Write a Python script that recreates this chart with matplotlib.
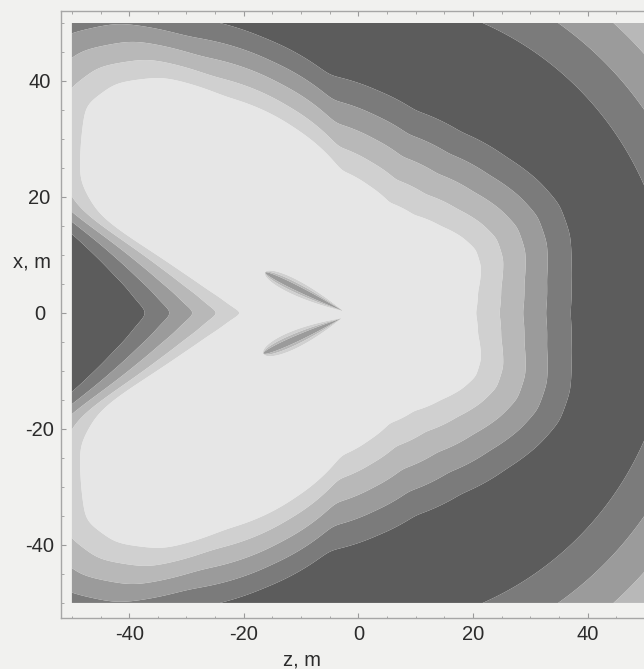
import numpy as np
import matplotlib
matplotlib.use("Agg")
import matplotlib.pyplot as plt
from matplotlib.ticker import MultipleLocator

# ---------------- data ----------------
# Edge of the lightest (innermost) region: polar angle from +z axis (deg), radius (m)
edge_angle_deg = [0, 10, 20, 28, 36, 46, 60, 74, 85, 97, 109, 122, 130, 137,
                  143, 150, 155, 159.6, 163.1, 165.6, 168.9, 173.4, 180]
edge_radius_m = [20.5, 21.2, 22.8, 23.2, 22.3, 20.8, 19.5, 19.8, 22.0, 24.8,
                 33.6, 44.0, 53.0, 58.0, 59.5, 56.0, 53.5, 48.1, 38.5, 33.6,
                 29.0, 24.5, 20.2]

# level drop is 1 unit per metre outside the edge; far out on the right the
# level rises again beyond this radius (m) at this rate (units per m)
rise_start_radius = 54.5
rise_rate = 0.667
rise_max_angle_deg = 70

# contour levels (level units) and band shades (darkest -> lightest)
contour_levels = [-16.5, -12.2, -8.2, -4.1, 0]
band_colors = ["#5c5c5c", "#7b7b7b", "#9b9b9b", "#b8b8b8", "#d0d0d0", "#e6e6e6"]

# two thin dark slivers near the source: tip (z, x) and far end (z, x)
sliver_tips = [(-2.6, 0.3), (-2.9, -0.9)]
sliver_ends = [(-16.3, 7.0), (-16.6, -7.0)]
sliver_halfwidth = [0.95, 1.1]
sliver_depth = 13.0

x_ticks = [-40, -20, 0, 20, 40]
y_ticks = [-40, -20, 0, 20, 40]
x_label = "z, m"
y_label = "x, m"

# ---------------- field ----------------
ang_full = np.concatenate([-np.array(edge_angle_deg[::-1][:-1]), np.array(edge_angle_deg)])
rad_full = np.concatenate([np.array(edge_radius_m[::-1][:-1]), np.array(edge_radius_m)])
fine = np.linspace(-180, 180, 3601)
prof = np.interp(fine, ang_full, rad_full)
k = np.arange(-30, 31) * 0.1
ker = np.exp(-0.5 * (k / 1.2) ** 2)
ker /= ker.sum()
ext = np.concatenate([prof[-31:-1], prof, prof[1:31]])
prof_s = np.convolve(ext, ker, mode="same")[30:-30]

zz = np.linspace(-50, 50, 901)
xx = np.linspace(-50, 50, 901)
Z, X = np.meshgrid(zz, xx)
R = np.hypot(Z, X)
TH = np.degrees(np.arctan2(X, Z))
S = np.interp(TH, fine, prof_s)
V_fall = -(R - S)
R1 = rise_start_radius + 3.0 * np.clip(np.abs(TH) - rise_max_angle_deg, 0, None)
V_rise = contour_levels[0] + rise_rate * (R - R1)
V = np.maximum(V_fall, V_rise)
V = np.minimum(V, 2.0)


def sliver(tip, end, half):
    T = np.array(tip)
    E = np.array(end)
    v = T - E
    L = np.hypot(*v)
    u = v / L
    rz = Z - E[0]
    rx = X - E[1]
    s = (rz * u[0] + rx * u[1]) / L
    p = np.abs(-rz * u[1] + rx * u[0])
    sc = np.clip(s, 1e-6, 1 - 1e-6)
    w = (half / 0.385) * np.sqrt(sc) * (1 - sc)
    g = np.exp(-(p / w) ** 2)
    g[(s <= 0) | (s >= 1)] = 0
    return g


for t, e, h in zip(sliver_tips, sliver_ends, sliver_halfwidth):
    V = V - sliver_depth * sliver(t, e, h)

# ---------------- figure ----------------
W, H = 644, 669
paper = "#f1f1ef"
fig = plt.figure(figsize=(W / 100, H / 100), dpi=100, facecolor=paper)
ax = fig.add_axes([61 / W, 51 / H, 594.8 / W, 607 / H])
ax.set_facecolor(paper)

lv = [-1e9] + contour_levels + [1e9]
ax.contourf(Z, X, V, levels=lv, colors=band_colors, antialiased=True)

ax.set_xlim(-51.9, 51.9)
ax.set_ylim(-52.6, 52.07)

font = ["Liberation Sans Narrow", "Liberation Sans", "DejaVu Sans"]
fs = 14.5
for sp in ax.spines.values():
    sp.set_color("#a6a6a6")
    sp.set_linewidth(1.0)

ax.set_xticks(x_ticks)
ax.set_yticks(y_ticks)
ax.set_xticklabels([str(v) for v in x_ticks])
ax.set_yticklabels([str(v) for v in y_ticks])
ax.xaxis.set_minor_locator(MultipleLocator(5))
ax.yaxis.set_minor_locator(MultipleLocator(5))
ax.tick_params(which="both", direction="in", top=True, right=True, color="#9a9a9a")
ax.tick_params(which="major", length=3.6, width=0.8)
ax.tick_params(which="minor", length=1.8, width=0.6)
ax.tick_params(axis="x", which="major", pad=5.0, labelsize=fs, labelcolor="#2b2b2b")
ax.tick_params(axis="y", which="major", pad=15.5, labelsize=fs, labelcolor="#2b2b2b")
for lab in ax.get_xticklabels() + ax.get_yticklabels():
    lab.set_fontfamily(font)
for lab in ax.get_yticklabels():
    lab.set_horizontalalignment("center")

fig.text(302 / W, 1 - 660 / H, x_label, ha="center", va="center",
         fontsize=fs, family=font, color="#2b2b2b")
fig.text(32 / W, 1 - 262 / H, y_label, ha="center", va="center",
         fontsize=fs, family=font, color="#2b2b2b")

fig.savefig("out.png", dpi=100, facecolor=paper)
